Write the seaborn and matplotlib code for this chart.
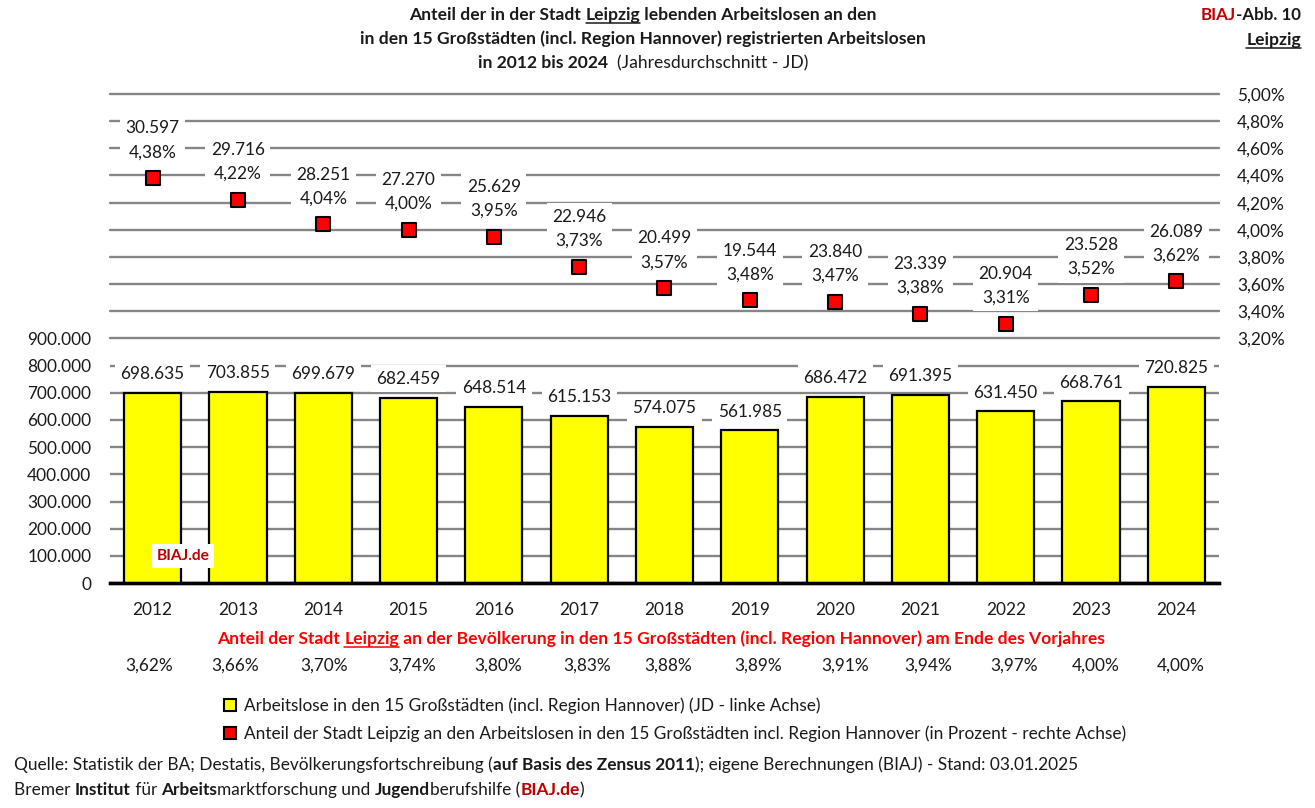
import pandas as pd
import matplotlib
matplotlib.use('Agg')
import matplotlib.pyplot as plt
from matplotlib.lines import Line2D
from matplotlib.ticker import FuncFormatter
import seaborn as sns

# Data
years = ['2012', '2013', '2014', '2015', '2016', '2017', '2018', '2019', '2020', '2021', '2022', '2023', '2024']
arbeitslose_gross = [698635, 703855, 699679, 682459, 648514, 615153, 574075, 561985, 686472, 691395, 631450, 668761, 720825]
arbeitslose_stadt = [30597, 29716, 28251, 27270, 25629, 22946, 20499, 19544, 23840, 23339, 20904, 23528, 26089]
anteil_arbeitslose = [4.38, 4.22, 4.04, 4.00, 3.95, 3.73, 3.57, 3.48, 3.47, 3.38, 3.31, 3.52, 3.62]
anteil_bevoelkerung = [3.62, 3.66, 3.70, 3.74, 3.80, 3.83, 3.88, 3.89, 3.91, 3.94, 3.97, 4.00, 4.00]
left_ticks = [0, 100000, 200000, 300000, 400000, 500000, 600000, 700000, 800000, 900000]
right_ticks = [3.2, 3.4, 3.6, 3.8, 4.0, 4.2, 4.4, 4.6, 4.8, 5.0]

# the percent row under the chart was placed by hand, it drifts from the bars
row_shift_px = [-3, -3, 1, 4, 4, 8, 4, 8, 10, 8, 8, 5, 4]

W, H = 1315, 808
FONT = 'Lato'
DARK_RED = '#C00000'
TEXT = '#1a1a1a'
GRID = '#868686'
HEAD = 12.6
BODY = 12.4

sns.set_theme(style='white')
plt.rcParams['font.family'] = [FONT, 'DejaVu Sans']


def de_int(v):
    return f'{v:,}'.replace(',', '.')


def de_pct(v):
    return f'{v:.2f}'.replace('.', ',') + '%'


def rich_line(fig, x_px, y_px, parts, size, ha='left'):
    """Write one baseline of mixed text: parts are (text, bold, color, underline)"""
    renderer = fig.canvas.get_renderer()
    artists = []
    total = 0
    for s, bold, color, under in parts:
        t = fig.text(0, 1 - y_px / H, s, fontsize=size, color=color, va='baseline', ha='left',
                     fontweight='bold' if bold else 'normal')
        # measure with a trailing marker so spaces are counted
        probe = fig.text(0, 0, s.replace(' ', '\u00a0'), fontsize=size,
                         fontweight='bold' if bold else 'normal')
        w = probe.get_window_extent(renderer).width
        probe.remove()
        artists.append((t, w, color, under))
        total += w
    x = x_px
    if ha == 'center':
        x = x_px - total / 2
    elif ha == 'right':
        x = x_px - total
    for t, w, color, under in artists:
        t.set_x(x / W)
        if under:
            yy = 1 - (y_px + 3) / H
            fig.add_artist(Line2D([x / W, (x + w) / W], [yy, yy], color=color, lw=1.1))
        x += w


df = pd.DataFrame({'year': years, 'gross': arbeitslose_gross, 'anteil': anteil_arbeitslose})

fig = plt.figure(figsize=(W / 100, H / 100), dpi=100)
ax = fig.add_axes([110 / W, 1 - 583 / H, (1219 - 110) / W, (583 - 94) / H])
ax2 = ax.twinx()

# Bars, left axis
sns.barplot(data=df, x='year', y='gross', ax=ax, color='#FFFF00', width=0.67, saturation=1,
            edgecolor='black', linewidth=1.6, zorder=3)
ax.set_ylim(0, 1800000)
ax.set_yticks(left_ticks)
ax.yaxis.set_major_formatter(FuncFormatter(lambda v, _: de_int(int(v))))
ax.set_xlabel('')
ax.set_ylabel('')
ax.grid(axis='y', color=GRID, lw=1.7, zorder=0)
ax.set_axisbelow(True)
# 900.000 and 3,20% share one line, the right axis draws it
ax.yaxis.get_gridlines()[-1].set_visible(False)

# Markers, right axis
sns.stripplot(data=df, x='year', y='anteil', ax=ax2, jitter=False, marker='s', size=10.5,
              color='#FF0000', edgecolor='black', linewidth=1.5, zorder=5)
ax2.set_ylim(1.4, 5.0)
ax2.set_yticks(right_ticks)
ax2.yaxis.set_major_formatter(FuncFormatter(lambda v, _: de_pct(v)))
ax2.set_xlabel('')
ax2.set_ylabel('')
ax2.grid(axis='y', color=GRID, lw=1.7, zorder=0)
for gl in ax2.yaxis.get_gridlines():
    gl.set_clip_on(False)
ax2.set_xlim(-0.5, 12.5)
ax.set_xlim(-0.5, 12.5)

for a in (ax, ax2):
    for name in ('top', 'left', 'right'):
        a.spines[name].set_visible(False)
    a.spines['bottom'].set_color('black')
    a.spines['bottom'].set_linewidth(2.4)
    a.tick_params(length=0, labelsize=12.4, labelcolor=TEXT)
ax.tick_params(axis='y', pad=13.5)
ax2.tick_params(axis='y', pad=13)
ax.tick_params(axis='x', pad=14)

# Data labels with white boxes that break the grid lines
box = dict(facecolor='white', edgecolor='none', pad=4)
for i, v in enumerate(arbeitslose_gross):
    ax.annotate(de_int(v), (i, v), xytext=(0, 13.5), textcoords='offset points', ha='center', va='center',
                fontsize=12.4, color=TEXT, bbox=box, zorder=4)
for i, (n, p) in enumerate(zip(arbeitslose_stadt, anteil_arbeitslose)):
    ax2.annotate(f'{de_int(n)}\n{de_pct(p)}', (i, p), xytext=(0, 27.3), textcoords='offset points',
                 ha='center', va='center', fontsize=12.4, color=TEXT, linespacing=1.6,
                 bbox=box, zorder=4)

# Header
fig.canvas.draw()
rich_line(fig, 643, 20, [('Anteil der in der Stadt ', True, TEXT, False), ('Leipzig', True, TEXT, True),
                         (' lebenden Arbeitslosen an den', True, TEXT, False)], HEAD, 'center')
rich_line(fig, 643, 44, [('in den 15 Großstädten (incl. Region Hannover) registrierten Arbeitslosen', True, TEXT, False)],
          HEAD, 'center')
rich_line(fig, 643, 68, [('in 2012 bis 2024', True, TEXT, False), ('  (Jahresdurchschnitt - JD)', False, TEXT, False)],
          HEAD, 'center')
rich_line(fig, 1301, 20, [('BIAJ', True, DARK_RED, False), ('-Abb. 10', True, TEXT, False)], 12.2, 'right')
rich_line(fig, 1301, 45, [('Leipzig', True, TEXT, True)], HEAD, 'right')

# Population share row
rich_line(fig, 661, 644, [('Anteil der Stadt ', True, '#FF0000', False), ('Leipzig', True, '#FF0000', True),
                          (' an der Bevölkerung in den 15 Großstädten (incl. Region Hannover) am Ende des Vorjahres', True, '#FF0000', False)],
          HEAD, 'center')
for i, p in enumerate(anteil_bevoelkerung):
    x_px = 110 + (i + 0.5) * (1219 - 110) / len(years) + row_shift_px[i]
    fig.text(x_px / W, 1 - 666 / H, de_pct(p), fontsize=12.4, color=TEXT, ha='center', va='center')

# Watermark on first bar
fig.text(183 / W, 1 - 556 / H, 'BIAJ.de', fontsize=11.2, fontweight='bold', color=DARK_RED, ha='center', va='center',
         bbox=dict(facecolor='white', edgecolor='none', pad=3.5), zorder=10)

# Legend
handles = [
    Line2D([], [], ls='none', marker='s', ms=9, mfc='#FFFF00', mec='black', mew=1.5,
           label='Arbeitslose in den 15 Großstädten (incl. Region Hannover) (JD - linke Achse)'),
    Line2D([], [], ls='none', marker='s', ms=9, mfc='#FF0000', mec='black', mew=1.5,
           label='Anteil der Stadt Leipzig an den Arbeitslosen in den 15 Großstädten incl. Region Hannover (in Prozent - rechte Achse)'),
]
fig.legend(handles=handles, loc='upper left', bbox_to_anchor=(221.3 / W, 1 - 697 / H), frameon=False,
           fontsize=BODY, labelspacing=0.69, handlelength=1, handletextpad=0.3, labelcolor=TEXT,
           borderpad=0, borderaxespad=0)

# Source lines
rich_line(fig, 14, 770, [('Quelle: Statistik der BA; Destatis, Bevölkerungsfortschreibung (', False, TEXT, False),
                         ('auf Basis des Zensus 2011', True, TEXT, False),
                         ('); eigene Berechnungen (BIAJ) - Stand: 03.01.2025', False, TEXT, False)], BODY)
rich_line(fig, 14, 795, [('Bremer ', False, TEXT, False), ('Institut', True, TEXT, False), (' für ', False, TEXT, False),
                         ('Arbeits', True, TEXT, False), ('marktforschung und ', False, TEXT, False),
                         ('Jugend', True, TEXT, False), ('berufshilfe (', False, TEXT, False),
                         ('BIAJ.de', True, DARK_RED, False), (')', False, TEXT, False)], BODY)

plt.savefig('out.png', dpi=100)
